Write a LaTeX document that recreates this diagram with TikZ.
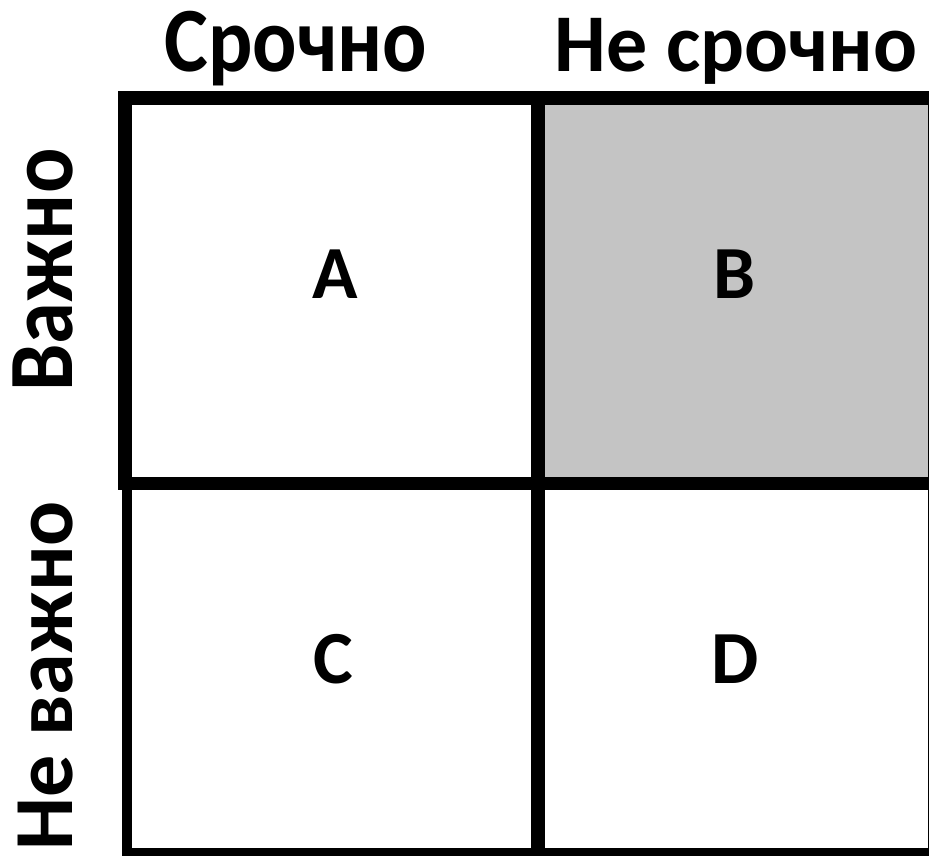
\documentclass[tikz,border=0pt]{standalone}
\usepackage{fontspec}
\usepackage{graphicx}
\setmainfont{Carlito}
\definecolor{cellgray}{RGB}{196,196,196}
\begin{document}
\begin{tikzpicture}[x=1pt,y=-1pt,
  bar/.style={fill=black},
  head/.style={anchor=base,inner sep=0pt,font=\bfseries\fontsize{92}{92}\selectfont},
  headsmall/.style={anchor=base,inner sep=0pt,font=\bfseries\fontsize{82}{82}\selectfont},
  side/.style={anchor=base,inner sep=0pt,rotate=90,font=\bfseries\fontsize{92}{92}\selectfont},
  sidesmall/.style={anchor=base,inner sep=0pt,rotate=90,font=\bfseries\fontsize{84}{84}\selectfont},
  letter/.style={anchor=base,inner sep=0pt,font=\bfseries\fontsize{75}{75}\selectfont}]
\useasboundingbox (0,0) rectangle (929,856);
\clip (0,0) rectangle (929,856);
% shaded cell B
\fill[cellgray] (545,105) rectangle (930,477);
% grid lines
\fill[bar] (118,91) rectangle (940,105);
\fill[bar] (118,91) rectangle (132,490);
\fill[bar] (531,91) rectangle (545,860);
\fill[bar] (118,477) rectangle (940,490);
\fill[bar] (122,477) rectangle (132,860);
\fill[bar] (122,848) rectangle (940,860);
\fill[bar] (928,91) rectangle (940,860);
% headers
\node[head] (urgent) at (296,72) {\scalebox{0.9}[1]{Срочно}};
\node[headsmall] (noturgent) at (736,72) {Не срочно};
\node[side] (important) at (72,270) {\scalebox{0.92}[1]{Важно}};
\node[sidesmall] (notimportant) at (72,676) {Не важно};
% cell letters
\node[letter] (A) at (335,298) {A};
\node[letter] (B) at (735,298) {B};
\node[letter] (C) at (333,683) {C};
\node[letter] (D) at (735,683) {D};
\end{tikzpicture}
\end{document}
